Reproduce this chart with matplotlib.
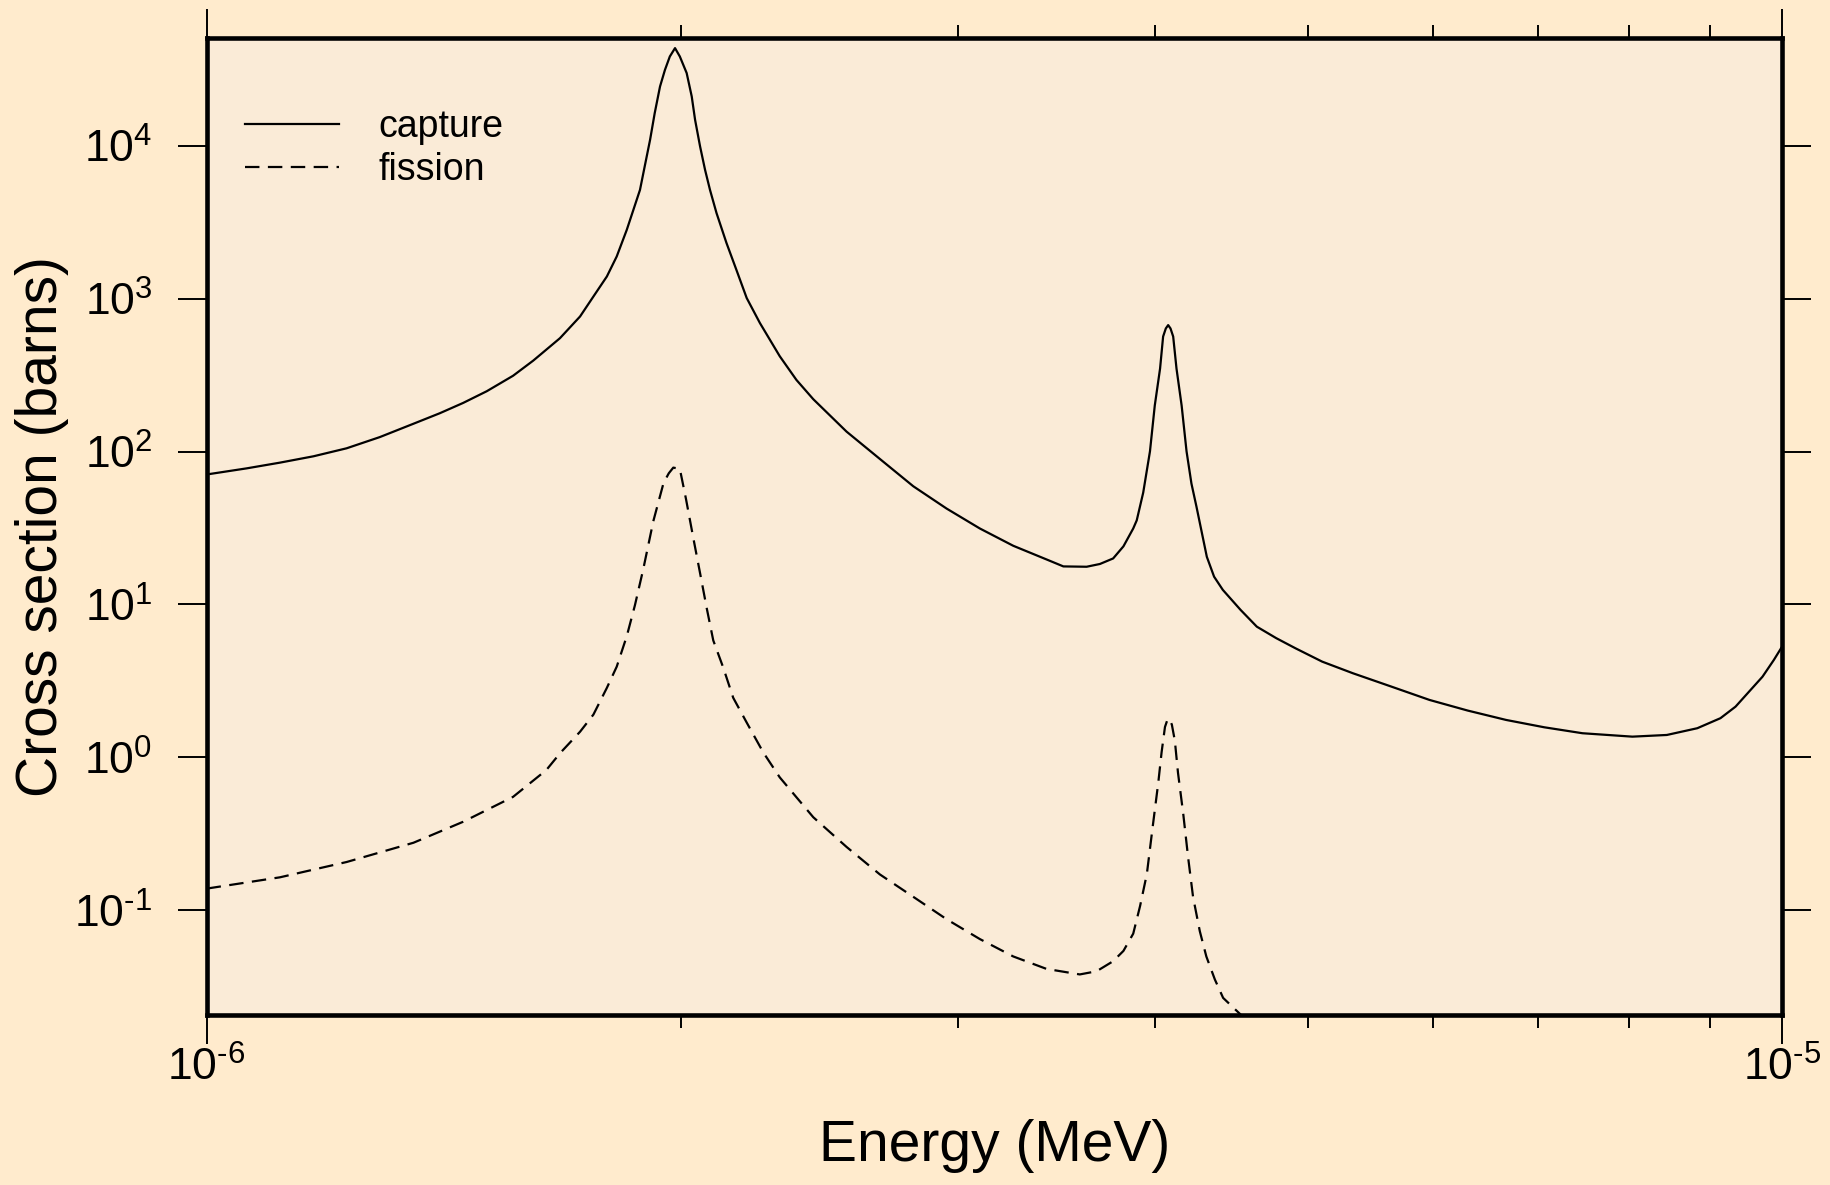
#!/usr/bin/env python3
"""Capture and fission cross sections vs neutron energy (two resonances)."""

import matplotlib

matplotlib.use("Agg")
import matplotlib.pyplot as plt
from matplotlib.ticker import FixedLocator, LogLocator, NullFormatter, NullLocator

# energies (MeV) and cross sections (barns)
capture_energy = [
    1.000e-6, 1.060e-6, 1.113e-6, 1.169e-6, 1.227e-6, 1.288e-6, 1.353e-6,
    1.406e-6, 1.455e-6, 1.506e-6, 1.565e-6, 1.612e-6, 1.676e-6, 1.726e-6,
    1.760e-6, 1.795e-6, 1.821e-6, 1.848e-6, 1.866e-6, 1.884e-6, 1.897e-6,
    1.912e-6, 1.925e-6, 1.940e-6, 1.954e-6, 1.968e-6, 1.983e-6, 1.997e-6,
    2.017e-6, 2.032e-6, 2.042e-6, 2.057e-6, 2.072e-6, 2.087e-6, 2.107e-6,
    2.138e-6, 2.169e-6, 2.202e-6, 2.245e-6, 2.311e-6, 2.368e-6, 2.427e-6,
    2.548e-6, 2.675e-6, 2.809e-6, 2.949e-6, 3.096e-6, 3.251e-6, 3.413e-6,
    3.498e-6, 3.619e-6, 3.690e-6, 3.762e-6, 3.819e-6, 3.874e-6, 3.894e-6,
    3.931e-6, 3.970e-6, 3.998e-6, 4.029e-6, 4.047e-6, 4.063e-6, 4.077e-6,
    4.091e-6, 4.107e-6, 4.127e-6, 4.158e-6, 4.188e-6, 4.218e-6, 4.249e-6,
    4.314e-6, 4.360e-6, 4.416e-6, 4.532e-6, 4.641e-6, 4.775e-6, 4.911e-6,
    5.106e-6, 5.341e-6, 5.648e-6, 5.974e-6, 6.317e-6, 6.681e-6, 7.064e-6,
    7.470e-6, 8.035e-6, 8.450e-6, 8.835e-6, 9.139e-6, 9.343e-6, 9.718e-6,
    9.881e-6, 1.000e-5,
]
capture_xs = [
    70.8, 77.6, 84.6, 93.1, 105, 124.3, 152,
    178, 208, 248, 313, 393.5, 551, 764,
    1032, 1396, 1886, 2818, 3811, 5140, 7310,
    10920, 16330, 24380, 31300, 38300, 43450, 38300,
    29860, 20990, 14760, 9880, 6950, 5140, 3625,
    2307, 1544, 1009, 692, 420, 294, 220,
    135, 89.5, 59.3, 42.4, 31.4, 24.2, 19.7,
    17.74, 17.65, 18.4, 20.0, 24.0, 31.4, 35.5,
    53.9, 100.3, 200, 348.6, 565, 638, 671,
    638, 565, 348.6, 200, 100.3, 61.8, 43.7,
    20.5, 15.2, 12.46, 9.22, 7.16, 6.02, 5.17,
    4.23, 3.55, 2.907, 2.375, 2.024, 1.758, 1.574,
    1.439, 1.367, 1.402, 1.552, 1.805, 2.148, 3.37,
    4.34, 5.30,
]

fission_energy = [
    1.000e-6, 1.113e-6, 1.227e-6, 1.353e-6, 1.455e-6, 1.565e-6, 1.643e-6,
    1.677e-6, 1.726e-6, 1.760e-6, 1.795e-6, 1.821e-6, 1.848e-6, 1.870e-6,
    1.893e-6, 1.921e-6, 1.950e-6, 1.965e-6, 1.978e-6, 1.997e-6, 2.015e-6,
    2.037e-6, 2.057e-6, 2.077e-6, 2.097e-6, 2.128e-6, 2.159e-6, 2.202e-6,
    2.256e-6, 2.311e-6, 2.368e-6, 2.427e-6, 2.548e-6, 2.675e-6, 2.809e-6,
    2.949e-6, 3.096e-6, 3.251e-6, 3.413e-6, 3.583e-6, 3.672e-6, 3.762e-6,
    3.819e-6, 3.874e-6, 3.913e-6, 3.952e-6, 3.985e-6, 4.019e-6, 4.038e-6,
    4.058e-6, 4.072e-6, 4.083e-6, 4.099e-6, 4.117e-6, 4.136e-6, 4.168e-6,
    4.198e-6, 4.228e-6, 4.270e-6, 4.311e-6, 4.365e-6, 4.418e-6, 4.571e-6,
]
fission_xs = [
    0.1387, 0.1644, 0.207, 0.2767, 0.3796, 0.552, 0.827,
    1.071, 1.472, 1.905, 2.85, 3.92, 6.21, 9.86,
    17.0, 35.0, 62.3, 72.1, 78.5, 77.1, 49.0,
    27.0, 16.0, 9.47, 5.82, 3.855, 2.455, 1.69,
    1.078, 0.7404, 0.549, 0.4064, 0.2598, 0.1718, 0.1226,
    0.0875, 0.0649, 0.04994, 0.0414, 0.0381, 0.03996, 0.0465,
    0.0543, 0.0704, 0.1067, 0.173, 0.346, 0.691, 1.08,
    1.582, 1.755, 1.792, 1.639, 1.286, 0.793, 0.4256,
    0.2203, 0.1225, 0.073, 0.0499, 0.0353, 0.02676, 0.01916,
]

x_major = [1e-6, 1e-5]
x_major_labels = [r"$10^{\text{-}6}$", r"$10^{\text{-}5}$"]
y_major = [1e-1, 1e0, 1e1, 1e2, 1e3, 1e4]
y_major_labels = [
    r"$10^{\text{-}1}$", r"$10^{0}$", r"$10^{1}$",
    r"$10^{2}$", r"$10^{3}$", r"$10^{4}$",
]

FIG_BG = "#FFEBCD"
AX_BG = "#FAEBD7"

plt.rcParams["font.family"] = ["Liberation Sans", "DejaVu Sans"]
plt.rcParams["mathtext.fontset"] = "custom"
plt.rcParams["mathtext.rm"] = "Liberation Sans"
plt.rcParams["mathtext.it"] = "Liberation Sans"
plt.rcParams["mathtext.bf"] = "Liberation Sans"
plt.rcParams["mathtext.default"] = "regular"


def main() -> None:
    fig = plt.figure(figsize=(18.3, 11.85), dpi=100, facecolor=FIG_BG)
    ax = fig.add_axes([0.1129, 0.1435, 0.8609, 0.8241], facecolor=AX_BG)

    ax.plot(capture_energy, capture_xs, color="black", linewidth=1.6,
            label="capture")
    ax.plot(fission_energy, fission_xs, color="black", linewidth=1.6,
            dashes=(6.5, 3.8), label="fission")

    ax.set_xscale("log")
    ax.set_yscale("log")
    ax.set_xlim(1e-6, 1e-5)
    ax.set_ylim(0.0207, 5.03e4)

    ax.xaxis.set_major_locator(FixedLocator(x_major))
    ax.set_xticklabels(x_major_labels)
    ax.xaxis.set_minor_locator(LogLocator(base=10, subs=range(2, 10)))
    ax.xaxis.set_minor_formatter(NullFormatter())
    ax.yaxis.set_major_locator(FixedLocator(y_major))
    ax.set_yticklabels(y_major_labels)
    ax.yaxis.set_minor_locator(NullLocator())

    ax.tick_params(which="both", direction="out", top=True, right=True,
                   width=1.4, colors="black")
    ax.tick_params(which="major", length=21, labelsize=32)
    ax.tick_params(which="minor", length=9.5)
    ax.tick_params(axis="x", which="major", pad=2)
    ax.tick_params(axis="y", which="major", pad=18)

    for sp in ax.spines.values():
        sp.set_linewidth(3.3)

    ax.set_xlabel("Energy (MeV)", fontsize=41, labelpad=21)
    ax.set_ylabel("Cross section (barns)", fontsize=41, labelpad=4)

    ax.legend(loc="upper left", bbox_to_anchor=(0.0244, 0.928), frameon=False,
              fontsize=27, borderpad=0, borderaxespad=0, handlelength=2.5,
              handletextpad=1.05, labelspacing=0.19)

    fig.savefig("out.png", dpi=100, facecolor=FIG_BG)
    plt.close(fig)


if __name__ == "__main__":
    main()
